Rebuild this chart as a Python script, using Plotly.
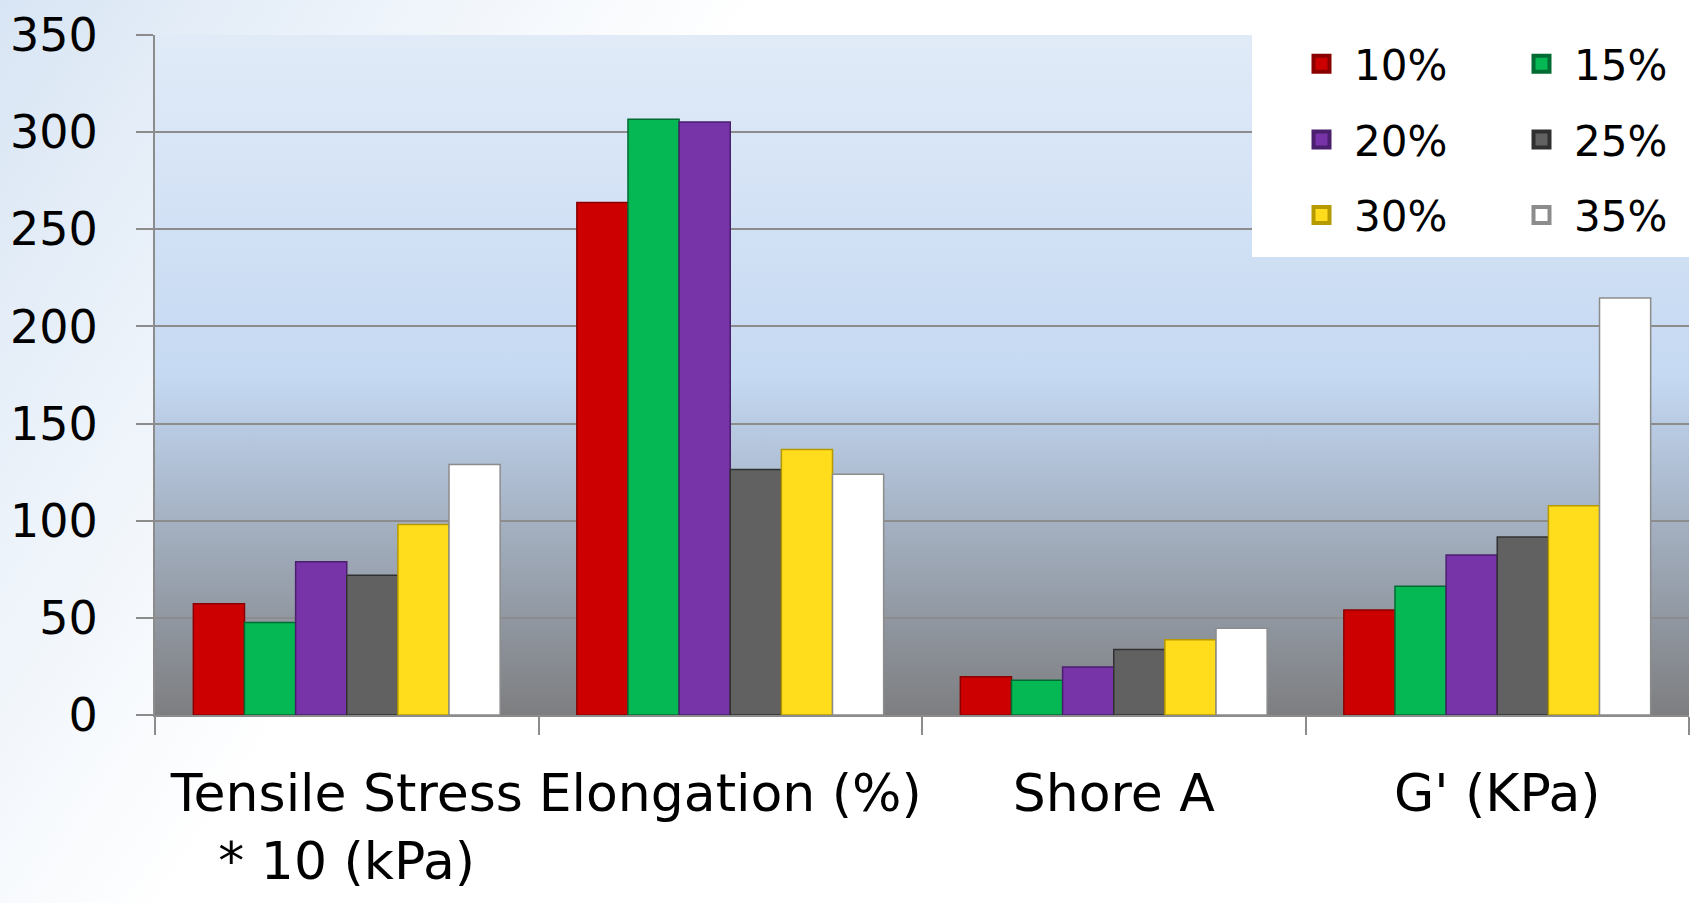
import base64
import plotly.graph_objects as go

categories = ["Tensile Stress<br>* 10 (kPa)", "Elongation (%)", "Shore A", "G' (KPa)"]
series_names = ["10%", "15%", "20%", "25%", "30%", "35%"]
values_10 = [57.3, 263.8, 19.7, 54.0]
values_15 = [47.6, 306.7, 17.9, 66.3]
values_20 = [78.9, 305.2, 24.7, 82.3]
values_25 = [71.9, 126.3, 33.7, 91.6]
values_30 = [98.1, 136.6, 38.7, 107.7]
values_35 = [128.9, 123.9, 44.7, 214.6]
series_values = [values_10, values_15, values_20, values_25, values_30, values_35]

fill_colors = ["#cc0000", "#05b853", "#7733a8", "#616161", "#ffdc1c", "#ffffff"]
edge_colors = ["#8a0000", "#006b33", "#4a1f6e", "#303030", "#b59a00", "#8c8c8c"]
legend_ids = ["legend", "legend2", "legend", "legend2", "legend", "legend2"]

FONT = "DejaVu Sans"
GRID = "#8c8c8c"


def svg_uri(svg):
    return "data:image/svg+xml;base64," + base64.b64encode(svg.encode()).decode()


plot_bg_svg = (
    "<svg xmlns='http://www.w3.org/2000/svg' width='100' height='100' viewBox='0 0 100 100' "
    "preserveAspectRatio='none'><defs><linearGradient id='g' x1='0' y1='0' x2='0' y2='1'>"
    "<stop offset='0' stop-color='#e1ebf8'/>"
    "<stop offset='0.5' stop-color='#c5d9f2'/>"
    "<stop offset='0.58' stop-color='#b8cae2'/>"
    "<stop offset='0.76' stop-color='#9ea9b8'/>"
    "<stop offset='1' stop-color='#7d7e80'/>"
    "</linearGradient></defs><rect width='100' height='100' fill='url(#g)'/></svg>"
)
paper_bg_svg = (
    "<svg xmlns='http://www.w3.org/2000/svg' width='100' height='100' viewBox='0 0 100 100' "
    "preserveAspectRatio='none'><defs><linearGradient id='p' x1='0' y1='0' x2='1' y2='0.35'>"
    "<stop offset='0' stop-color='#d8e5f4'/>"
    "<stop offset='0.2' stop-color='#edf3fa'/>"
    "<stop offset='0.4' stop-color='#ffffff'/>"
    "<stop offset='1' stop-color='#ffffff'/>"
    "</linearGradient></defs><rect width='100' height='100' fill='url(#p)'/></svg>"
)

W, H = 1694, 903
ML, MR, MT, MB = 155, 5, 35, 188
PW, PH = W - ML - MR, H - MT - MB

fig = go.Figure()
for name, vals, fc, ec in zip(series_names, series_values, fill_colors, edge_colors):
    fig.add_trace(go.Bar(
        x=categories, y=vals, name=name, showlegend=False,
        marker=dict(color=fc, line=dict(color=ec, width=1.5)),
    ))

# legend entries (no data, only swatches)
for name, fc, ec, lg in zip(series_names, fill_colors, edge_colors, legend_ids):
    fig.add_trace(go.Scatter(
        x=[None], y=[None], mode="markers", name=name, legend=lg,
        legendgroup=name,
        marker=dict(symbol="square", size=30, color=fc, line=dict(color=ec, width=4)),
    ))

legend_common = dict(
    yanchor="top", xanchor="left", y=(MT + PH - 30) / PH,
    bgcolor="rgba(0,0,0,0)", font=dict(size=42, family=FONT),
    tracegroupgap=18, itemsizing="trace", itemwidth=55,
)

fig.update_layout(
    width=W, height=H,
    margin=dict(l=ML, r=MR, t=MT, b=MB, pad=0, autoexpand=False),
    paper_bgcolor="#ffffff",
    plot_bgcolor="rgba(0,0,0,0)",
    barmode="group", bargap=0.2, bargroupgap=0,
    font=dict(family=FONT, color="#000000"),
    images=[
        dict(source=svg_uri(paper_bg_svg), xref="paper", yref="paper",
             x=-ML / PW, y=1 + MT / PH, sizex=W / PW, sizey=H / PH,
             sizing="stretch", layer="below", xanchor="left", yanchor="top"),
        dict(source=svg_uri(plot_bg_svg), xref="paper", yref="paper",
             x=0, y=1, sizex=1, sizey=1,
             sizing="stretch", layer="below", xanchor="left", yanchor="top"),
    ],
    shapes=[
        dict(type="rect", xref="paper", yref="paper",
             x0=(1252 - ML) / PW, x1=(W + 5 - ML) / PW,
             y0=(MT + PH - 257) / PH, y1=(MT + PH + 5) / PH,
             fillcolor="#ffffff", line=dict(width=0), layer="above"),
    ],
    legend=dict(x=(1289 - ML) / PW, **legend_common),
    legend2=dict(x=(1509 - ML) / PW, **legend_common),
    xaxis=dict(
        type="category", tickson="boundaries", ticks="outside", ticklen=18,
        tickwidth=2, tickcolor=GRID, showline=True, linecolor=GRID, linewidth=2,
        tickfont=dict(size=52, family=FONT, color="#000000"), tickangle=0,
        ticklabelstandoff=32, showgrid=False, automargin=False,
    ),
    yaxis=dict(
        range=[0, 350], dtick=50, ticks="outside", ticklen=17, tickwidth=2,
        tickcolor=GRID, showline=True, linecolor=GRID, linewidth=2,
        showgrid=True, gridcolor=GRID, gridwidth=2, zeroline=False,
        tickfont=dict(size=46, family=FONT, color="#000000"),
        ticklabelstandoff=29, automargin=False,
    ),
)

fig.write_html("out.html", config={"displayModeBar": False},
               post_script="document.body.style.margin='0';")
